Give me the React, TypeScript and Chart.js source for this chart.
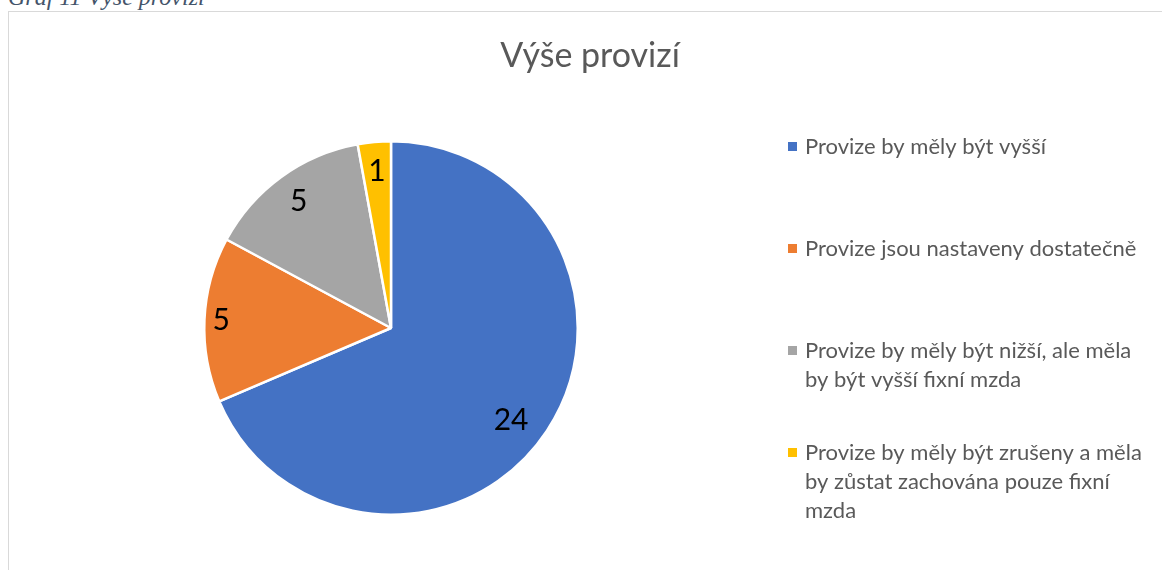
import { useEffect, useRef } from "react";
import { Chart, registerables } from "chart.js";
Chart.register(...registerables);

const chartTitle = "Výše provizí";
const caption = "Graf 11 Výše provizí";
const categories = [
  "Provize by měly být vyšší",
  "Provize jsou nastaveny dostatečně",
  "Provize by měly být nižší, ale měla by být vyšší fixní mzda",
  "Provize by měly být zrušeny a měla by zůstat zachována pouze fixní mzda",
];
const counts = [24, 5, 5, 1];
const sliceColors = ["#4472C4", "#ED7D31", "#A5A5A5", "#FFC000"];

const FONT = "Lato, 'Open Sans', sans-serif";
const TEXT = "#595959";

function wrap(ctx: CanvasRenderingContext2D, text: string, maxW: number): string[] {
  const words = text.split(" ");
  const lines: string[] = [];
  let cur = "";
  for (const w of words) {
    const t = cur ? cur + " " + w : w;
    if (ctx.measureText(t).width > maxW && cur) {
      lines.push(cur);
      cur = w;
    } else cur = t;
  }
  if (cur) lines.push(cur);
  return lines;
}

const decorPlugin = {
  id: "decor",
  afterDraw(chart: any) {
    const ctx: CanvasRenderingContext2D = chart.ctx;
    ctx.save();
    // title
    ctx.fillStyle = TEXT;
    ctx.font = `34px ${FONT}`;
    ctx.textAlign = "center";
    ctx.textBaseline = "middle";
    ctx.fillText(chartTitle, 590, 56);

    // data labels
    const meta = chart.getDatasetMeta(0);
    ctx.fillStyle = "#000";
    ctx.font = `30px ${FONT}`;
    const fr = [0.81, 0.91, 0.84, 0.84];
    meta.data.forEach((arc: any, i: number) => {
      const { x, y, startAngle, endAngle, outerRadius } = arc.getProps(
        ["x", "y", "startAngle", "endAngle", "outerRadius"],
        true
      );
      const mid = (startAngle + endAngle) / 2 + (i === 0 ? 0.07 : 0);
      const f = fr[i];
      ctx.fillText(String(counts[i]), x + Math.cos(mid) * outerRadius * f, y + Math.sin(mid) * outerRadius * f);
    });

    // legend
    ctx.font = `22px ${FONT}`;
    ctx.textAlign = "left";
    const lx = 788;
    const tx = 805;
    const top = 147;
    const step = 102;
    const lh = 29;
    categories.forEach((c, i) => {
      const y0 = top + i * step;
      ctx.fillStyle = sliceColors[i];
      ctx.fillRect(lx, y0 - 5, 9, 9);
      ctx.fillStyle = TEXT;
      wrap(ctx, c, 340).forEach((ln, j) => ctx.fillText(ln, tx, y0 + j * lh));
    });
    ctx.restore();
  },
};

export default function App() {
  const ref = useRef<HTMLCanvasElement>(null);
  useEffect(() => {
    const chart = new Chart(ref.current!, {
      type: "pie",
      data: {
        labels: categories,
        datasets: [
          {
            data: counts,
            backgroundColor: sliceColors,
            borderColor: "#ffffff",
            borderWidth: 2.5,
          },
        ],
      },
      options: {
        responsive: false,
        animation: false,
        events: [],
        layout: { padding: { left: 203, right: 1162 - 579, top: 140, bottom: 570 - 516 } },
        plugins: { legend: { display: false }, tooltip: { enabled: false }, title: { display: false } },
      },
      plugins: [decorPlugin],
    });
    return () => chart.destroy();
  }, []);
  return (
    <div style={{ position: "fixed", left: 0, top: 0, width: 1162, height: 570, overflow: "hidden", background: "#fff" }}>
      <div
        style={{
          position: "absolute",
          left: 8,
          top: -16,
          fontFamily: "'Liberation Serif', serif",
          fontStyle: "italic",
          fontSize: 24,
          color: "#44546A",
          whiteSpace: "nowrap",
        }}
      >
        {caption}
      </div>
      <div
        style={{
          position: "absolute",
          left: 8,
          top: 11,
          width: 1200,
          height: 600,
          border: "1.5px solid #d9d9d9",
        }}
      />
      <canvas ref={ref} width={1162} height={570} style={{ position: "absolute", left: 0, top: 0 }} />
    </div>
  );
}
